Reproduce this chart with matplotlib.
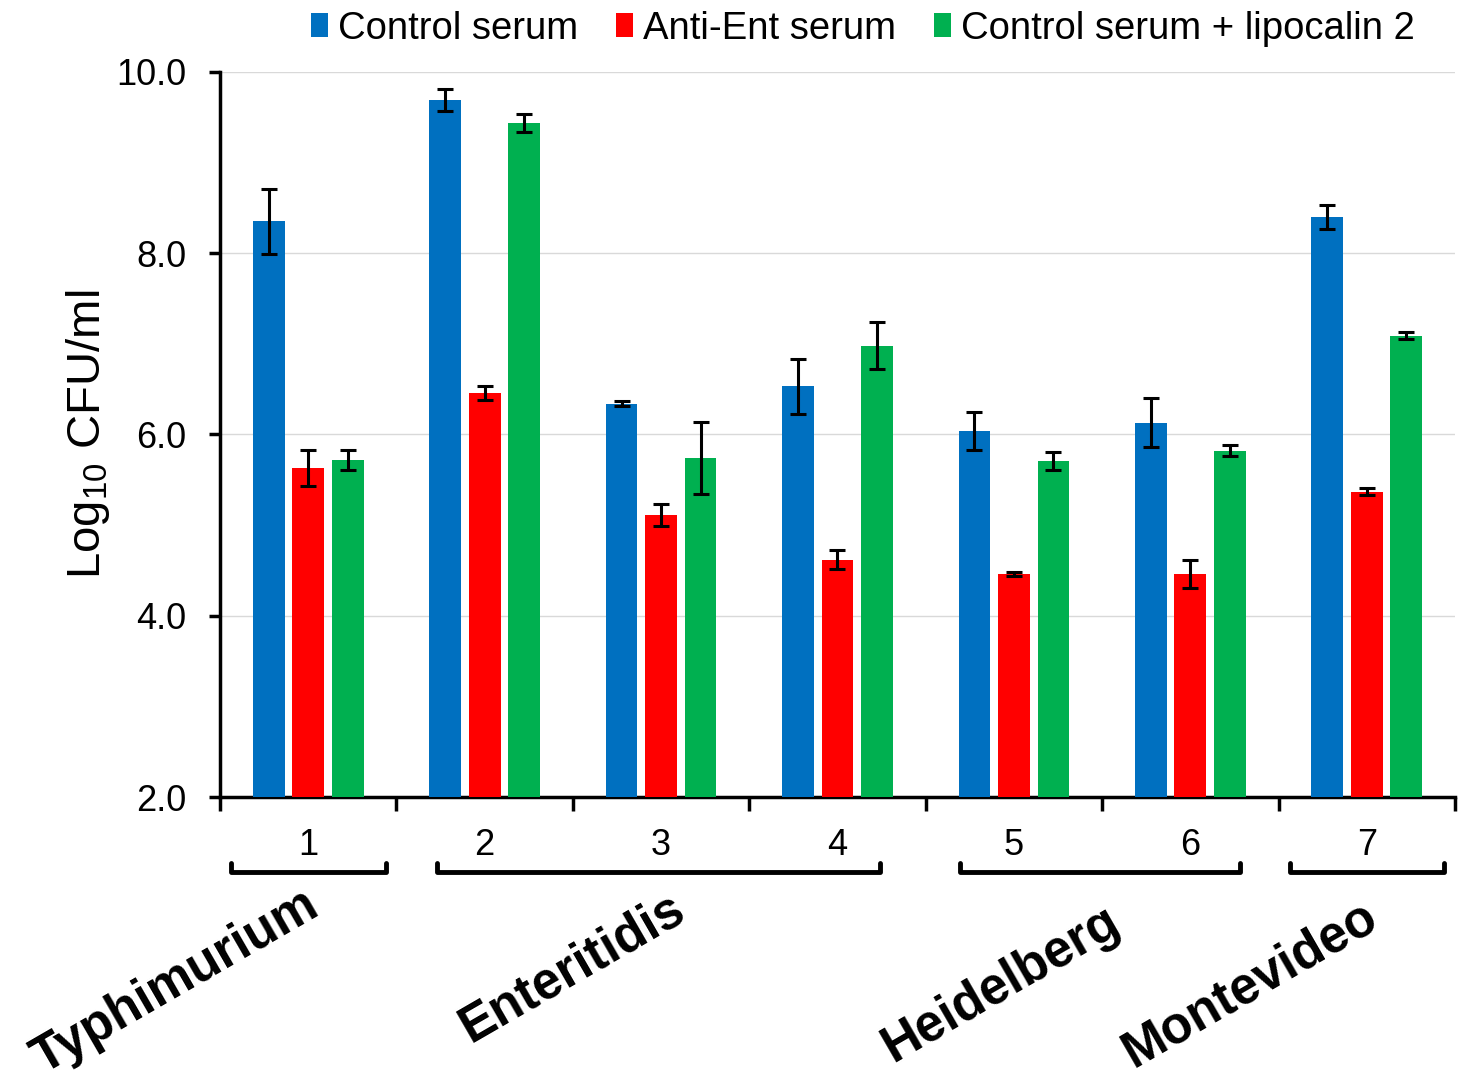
import matplotlib
matplotlib.use('Agg')
import matplotlib.pyplot as plt
import matplotlib.transforms as mtrans
from matplotlib.patches import Patch
import numpy as np

plt.rcParams['font.family'] = ['Liberation Sans', 'DejaVu Sans']
plt.rcParams['mathtext.fontset'] = 'custom'
plt.rcParams['mathtext.rm'] = 'Liberation Sans'

# data
strains = ['1', '2', '3', '4', '5', '6', '7']
series = ['Control serum', 'Anti-Ent serum', 'Control serum + lipocalin 2']
colors = ['#0070C0', '#FF0000', '#00B050']
control = [8.35, 9.69, 6.34, 6.53, 6.04, 6.13, 8.40]
control_err = [0.36, 0.12, 0.03, 0.30, 0.21, 0.27, 0.13]
anti_ent = [5.63, 6.46, 5.11, 4.62, 4.46, 4.46, 5.37]
anti_ent_err = [0.20, 0.08, 0.12, 0.10, 0.02, 0.15, 0.04]
lcn2 = [5.72, 9.44, 5.74, 6.98, 5.71, 5.82, 7.09]
lcn2_err = [0.11, 0.10, 0.40, 0.26, 0.10, 0.06, 0.04]
serovars = ['Typhimurium', 'Enteritidis', 'Heidelberg', 'Montevideo']

fig = plt.figure(figsize=(14.63, 10.82), dpi=100)
ax = fig.add_axes([0.1504, 0.2634, 0.8441, 0.6701])

x = np.arange(len(strains))
w = 0.18
off = 0.224
vals = [control, anti_ent, lcn2]
errs = [control_err, anti_ent_err, lcn2_err]
for i in range(3):
    ax.bar(x + (i - 1) * off, vals[i], w, bottom=0, color=colors[i], zorder=3,
           yerr=errs[i], error_kw=dict(elinewidth=2.2, capsize=6, capthick=2.2, ecolor='black', zorder=4))

ax.set_ylim(2, 10)
ax.set_xlim(-0.5, len(strains) - 0.5)
ax.set_yticks([2, 4, 6, 8, 10])
ax.set_yticklabels(['2.0', '4.0', '6.0', '8.0', '10.0'], fontsize=26)
ax.grid(axis='y', color='#d9d9d9', linewidth=1, zorder=0)
ax.tick_params(axis='y', length=8, width=2.5, direction='out', pad=16)

ax.set_xticks(np.arange(-0.5, len(strains)), minor=False)
ax.set_xticklabels([])
ax.set_xticks(x, minor=True)
ax.set_xticklabels(strains, minor=True, fontsize=26)
ax.tick_params(axis='x', which='major', length=10, width=2.5, direction='out')
ax.tick_params(axis='x', which='minor', length=0, pad=22)

for s in ['top', 'right']:
    ax.spines[s].set_visible(False)
ax.spines['left'].set_linewidth(2.5)
ax.spines['bottom'].set_linewidth(2.5)

ax.set_ylabel(r'Log$_{\mathrm{10}}$ CFU/ml', fontsize=34, labelpad=3)

# brackets grouping strains by serovar
tr = mtrans.blended_transform_factory(ax.transData, ax.transAxes)
bracket_ends = [(-0.44, 0.44), (0.73, 3.24), (3.695, 5.28), (5.566, 6.44)]
for (x0, x1) in bracket_ends:
    ax.plot([x0, x0, x1, x1], [-0.091, -0.1034, -0.1034, -0.091], transform=tr,
            color='black', lw=3.5, clip_on=False, solid_joinstyle='round', solid_capstyle='round')

label_x = [-0.755, 1.495, 3.93, 5.34]
label_y = [-0.255, -0.236, -0.259, -0.259]
for name, lx, ly in zip(serovars, label_x, label_y):
    ax.text(lx, ly, name, transform=tr, rotation=30, rotation_mode='anchor',
            ha='center', va='center', fontsize=37, fontweight='bold', clip_on=False)

handles = [Patch(facecolor=c, edgecolor='none') for c in colors]
fig.legend(handles, series, loc='upper center', bbox_to_anchor=(0.5896, 1.022), ncol=3,
           frameon=False, fontsize=27.5, handlelength=0.45, handleheight=0.6,
           handletextpad=0.25, columnspacing=1.0)

fig.savefig('out.png', dpi=100)
